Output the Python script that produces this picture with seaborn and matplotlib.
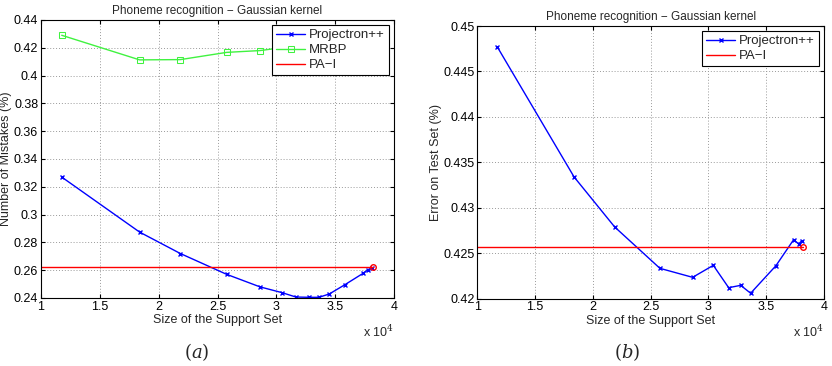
import pandas as pd
import seaborn as sns
import matplotlib.pyplot as plt

# Left panel: number of mistakes vs support set size (x in units of 1e4)
left_x = [1.176, 1.838, 2.184, 2.578, 2.861, 3.05, 3.166, 3.277, 3.362, 3.45, 3.583, 3.738, 3.781, 3.81]
left_proj = [0.327, 0.2874, 0.272, 0.257, 0.248, 0.2438, 0.2407, 0.2405, 0.2405, 0.2429, 0.2496, 0.2578, 0.2605, 0.2615]
mrbp_x = [1.176, 1.838, 2.184, 2.578, 2.861, 3.04, 3.2, 3.35]
mrbp_y = [0.429, 0.4113, 0.4115, 0.4167, 0.418, 0.420, 0.421, 0.422]
left_pa = 0.262

# Right panel: error on test set
right_x = [1.173, 1.837, 2.188, 2.58, 2.863, 3.042, 3.175, 3.279, 3.365, 3.584, 3.737, 3.78, 3.806]
right_proj = [0.4477, 0.4334, 0.4279, 0.42334, 0.42235, 0.42367, 0.42121, 0.42147, 0.4206, 0.42363, 0.42649, 0.42602, 0.42635]
right_pa = 0.42569
pa_end = 3.82

title = "Phoneme recognition \u2212 Gaussian kernel"

sns.set_style("whitegrid")
plt.rcParams['font.family'] = ['Liberation Sans', 'DejaVu Sans']
plt.rcParams['axes.unicode_minus'] = True
plt.rcParams['mathtext.fontset'] = 'dejavuserif'

BLUE = (0, 0, 1)
GREEN = (0.25, 0.95, 0.25)
RED = (1, 0, 0)
FS = 9

fig = plt.figure(figsize=(8.32, 3.66), dpi=100)
ax1 = fig.add_axes([0.0493, 0.1858, 0.4243, 0.7596])
ax2 = fig.add_axes([0.5737, 0.1839, 0.4167, 0.7450])


def fmt(v):
    return f"{v:.3f}".rstrip("0").rstrip(".")


def style_axes(ax, ylim, yticks, ylabel):
    ax.set_xlim(1, 4)
    ax.set_ylim(*ylim)
    ax.set_xticks([1, 1.5, 2, 2.5, 3, 3.5, 4])
    ax.set_xticklabels(["1", "1.5", "2", "2.5", "3", "3.5", "4"])
    ax.set_yticks(yticks)
    ax.set_yticklabels([fmt(v) for v in yticks])
    ax.grid(True, linestyle=(0, (1, 2)), color="#9a9a9a", linewidth=0.7)
    for s in ax.spines.values():
        s.set_color("black")
        s.set_linewidth(0.8)
    ax.tick_params(direction="in", length=3, labelsize=FS, pad=2,
                   top=True, right=True, bottom=True, left=True, colors="black")
    ax.set_xlabel("Size of the Support Set", fontsize=FS, labelpad=1)
    ax.set_ylabel(ylabel, fontsize=FS, labelpad=1)
    ax.set_title(title, fontsize=8.5, pad=4)
    ax.text(1.0, -0.095, "x 10$^4$", transform=ax.transAxes, ha="right", va="top", fontsize=FS)


def add_legend(ax):
    leg = ax.legend(loc="upper right", fontsize=FS + 0.5, frameon=True, fancybox=False, framealpha=1,
                    edgecolor="black", borderpad=0.3, labelspacing=0.2, handlelength=2.2,
                    handletextpad=0.3, borderaxespad=0.4)
    leg.get_frame().set_linewidth(0.8)


proj_kw = dict(color=BLUE, marker="x", markersize=3, markeredgewidth=1,
               markeredgecolor=BLUE, linewidth=1, dashes=False)

# Panel (a)
sns.lineplot(x=left_x, y=left_proj, ax=ax1, label="Projectron++", **proj_kw)
sns.lineplot(x=mrbp_x, y=mrbp_y, ax=ax1, color=GREEN, marker="s", markersize=4,
             markerfacecolor="none", markeredgecolor=GREEN, linewidth=1, label="MRBP")
sns.lineplot(x=[1.0, pa_end], y=[left_pa, left_pa], ax=ax1, color=RED, linewidth=1, label="PA\u2212I")
ax1.plot([pa_end], [left_pa], marker="o", markersize=4, markerfacecolor="none", markeredgecolor=RED)
style_axes(ax1, (0.24, 0.44), [0.24 + 0.02 * i for i in range(11)], "Number of Mistakes (%)")
add_legend(ax1)

# Panel (b)
sns.lineplot(x=right_x, y=right_proj, ax=ax2, label="Projectron++", **proj_kw)
sns.lineplot(x=[1.0, pa_end], y=[right_pa, right_pa], ax=ax2, color=RED, linewidth=1, label="PA\u2212I")
ax2.plot([pa_end], [right_pa], marker="o", markersize=4, markerfacecolor="none", markeredgecolor=RED)
style_axes(ax2, (0.42, 0.45), [0.42 + 0.005 * i for i in range(7)], "Error on Test Set (%)")
add_legend(ax2)

# Captions
fig.text(0.237, 0.038, "$(a)$", ha="center", va="center", fontsize=13)
fig.text(0.754, 0.038, "$(b)$", ha="center", va="center", fontsize=13)

fig.savefig("out.png", dpi=100)
